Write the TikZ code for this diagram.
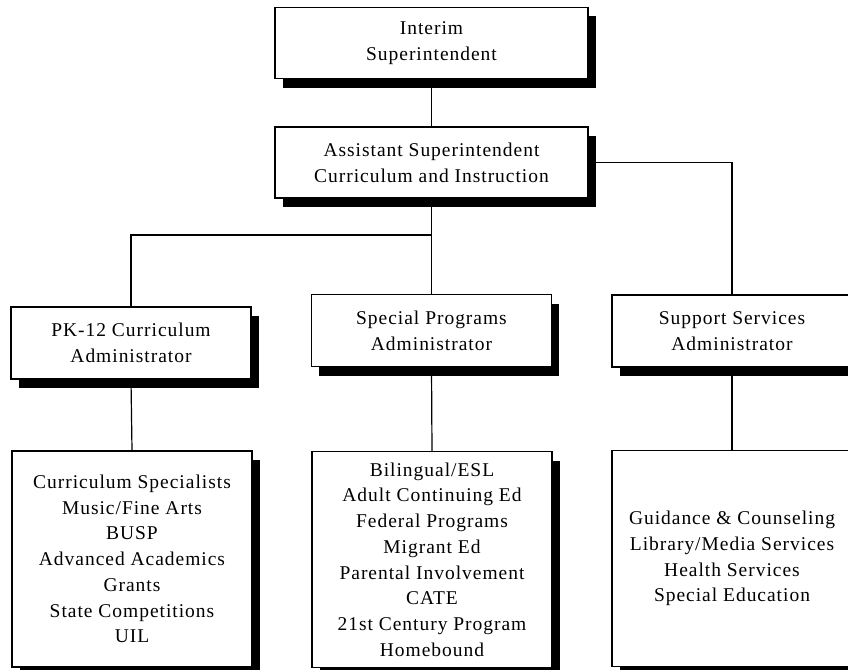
\documentclass[tikz,border=0pt]{standalone}
\usepackage{fontspec}
\setmainfont{Liberation Serif}[LetterSpace=5]
\usetikzlibrary{shadows}
\begin{document}
\begin{tikzpicture}[x=1pt,y=-1pt,
  box/.style={draw=black,line width=1.2pt,fill=white,rectangle,inner sep=0pt,
    minimum width=#1,align=center,font=\fontsize{19.5}{25.7}\selectfont,
    drop shadow={shadow xshift=7.5pt,shadow yshift=-9pt,opacity=1,fill=black}},
  unit/.style={box=240pt,minimum height=72pt},
  list/.style={box=240pt,minimum height=216pt},
  head/.style={box=313pt,minimum height=71pt},
  link/.style={draw=black,line width=1.2pt}]
\useasboundingbox (0,0) rectangle (848,669);
\clip (0,0) rectangle (848,669);
\fill[white] (0,0) rectangle (848,669);

% top of the chart
\node[head] (supt) at (431.5,43) {Interim\\Superintendent};
\node[head] (asst) at (431.5,162.5) {Assistant Superintendent\\Curriculum and Instruction};

% administrators
\node[unit] (pk) at (131,343) {PK-12 Curriculum\\Administrator};
\node[unit] (spec) at (431.5,330.5) {Special Programs\\Administrator};
\node[unit] (supp) at (732,331) {Support Services\\Administrator};

% departments under each administrator
\node[list] (pklist) at (132,559) {Curriculum Specialists\\Music/Fine Arts\\BUSP\\Advanced Academics\\Grants\\State Competitions\\UIL};
\node[list] (speclist) at (432,559.5) {Bilingual/ESL\\Adult Continuing Ed\\Federal Programs\\Migrant Ed\\Parental Involvement\\CATE\\21st Century Program\\Homebound};
\node[list] (supplist) at (732,558.5) {Guidance \& Counseling\\Library/Media Services\\Health Services\\Special Education};

% connectors
\coordinate (split) at (431.5,235);
\path[link] (supt.south) -- (asst.north);
\path[link] (asst.south) -- (spec.north);
\path[link] (split) -| (pk.north);
\path[link] (asst.east) -| (supp.north);
\path[link] (pk.south) -- (pklist.north);
\path[link] (spec.south) -- (speclist.north);
\path[link] (supp.south) -- (supplist.north);
\end{tikzpicture}
\end{document}
